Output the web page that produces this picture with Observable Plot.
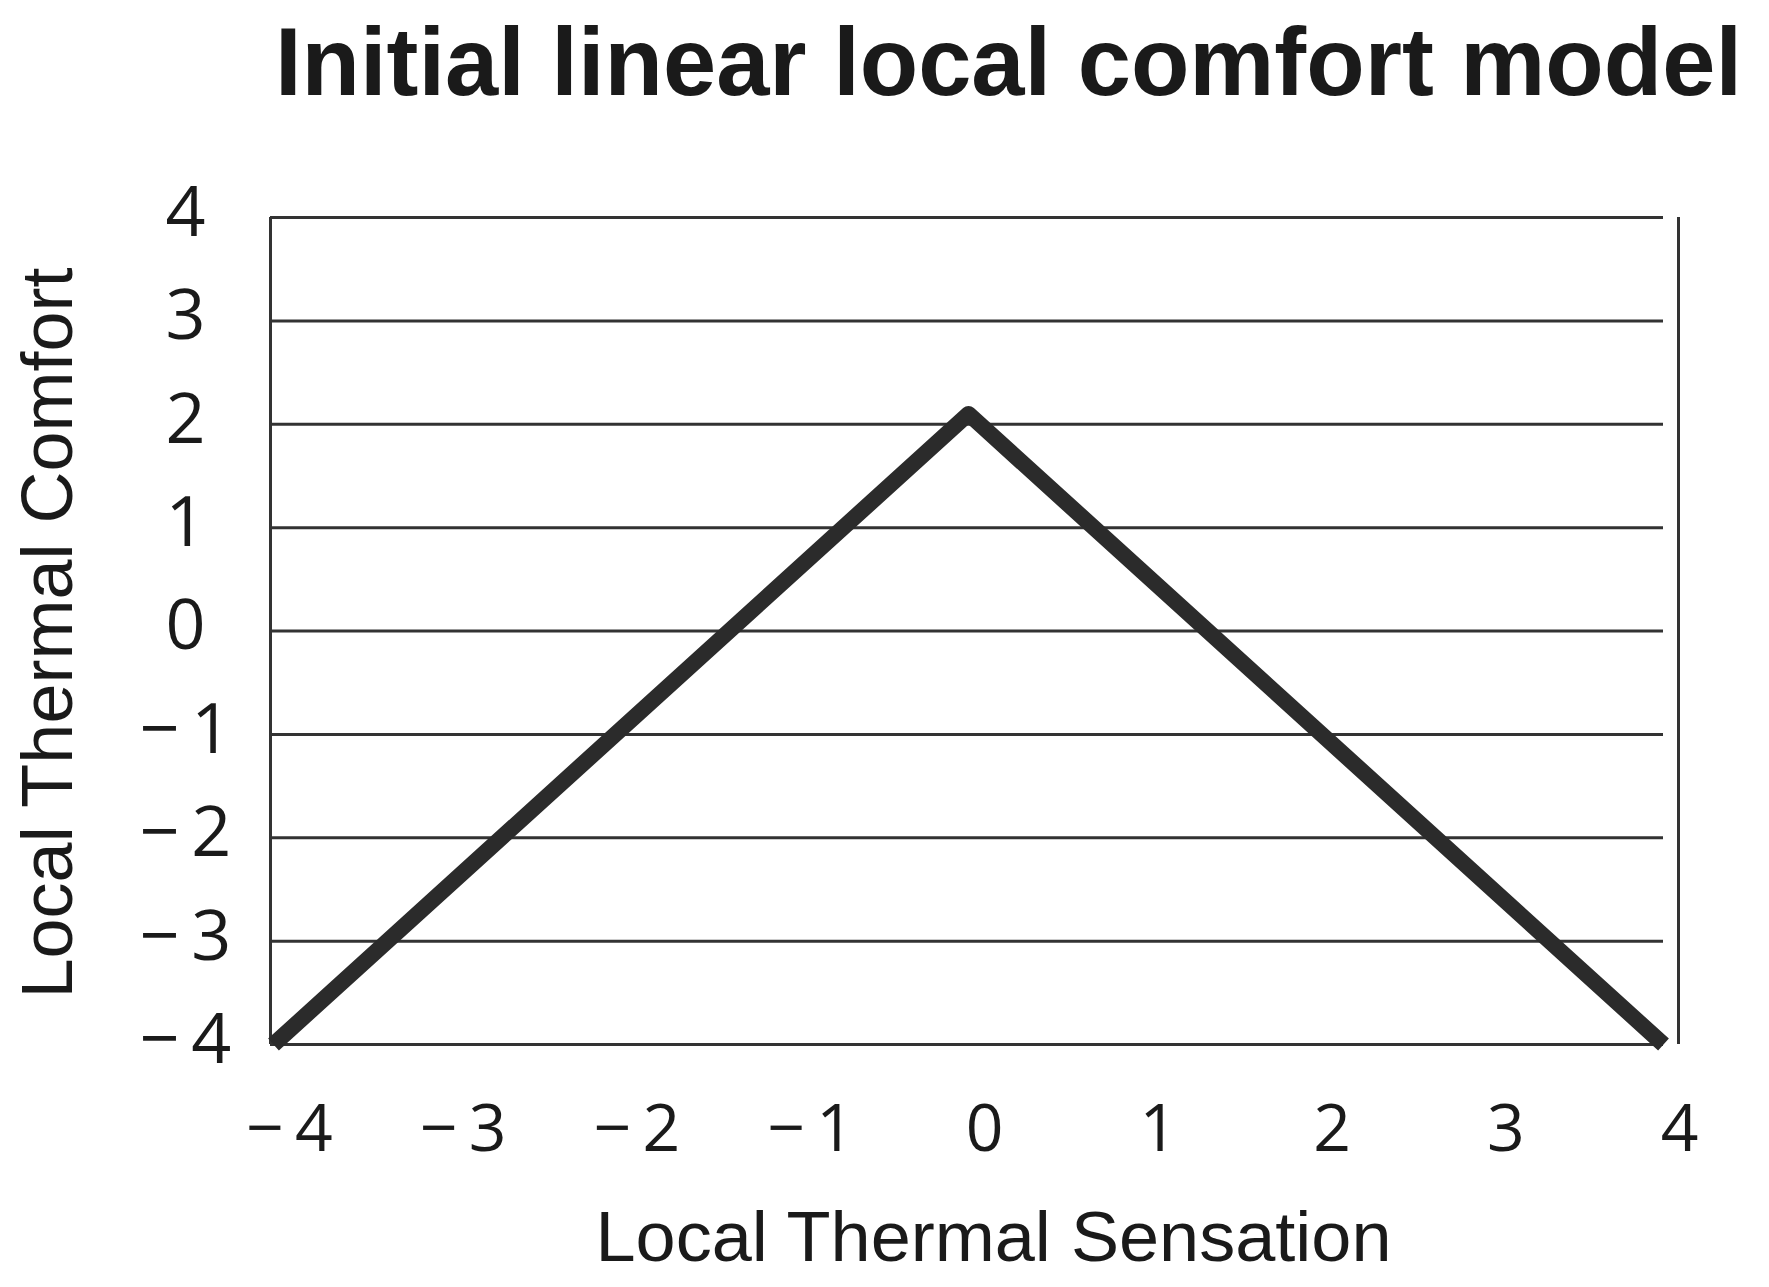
<!DOCTYPE html>
<html>
<head>
<meta charset="utf-8">
<script src="https://cdn.jsdelivr.net/npm/d3@7"></script>
<script src="https://cdn.jsdelivr.net/npm/@observablehq/plot@0.6"></script>
<style>
  html, body { margin: 0; padding: 0; background: #fff; }
  #title { display: block; }
</style>
</head>
<body>
<svg id="title" width="1769" height="130">
  <text x="275" y="95" font-family="'Liberation Sans', Arial, sans-serif" font-weight="bold" font-size="97" fill="#1a1a1a" textLength="1467" lengthAdjust="spacingAndGlyphs">Initial linear local comfort model</text>
</svg>
<div id="chart"></div>
<script>
// ---- data ----
const sensation = [-4, 0, 4];
const comfort = [-4, 2.1, -4];
const xTicks = [-4, -3, -2, -1, 0, 1, 2, 3, 4];
const yTicks = [-4, -3, -2, -1, 0, 1, 2, 3, 4];
const xLabel = "Local Thermal Sensation";
const yLabel = "Local Thermal Comfort";

const data = sensation.map((s, i) => ({s, c: comfort[i]}));
const fmt = d => d < 0 ? "\u2212\u2009" + Math.abs(d) : String(d);
const ink = "#333333";

const chart = Plot.plot({
  width: 1769,
  height: 1157,
  marginTop: 87,
  marginBottom: 243,
  marginLeft: 273,
  marginRight: 106,
  x: {domain: [-4, 4], axis: null},
  y: {domain: [-4, 4], axis: null},
  marks: [
    Plot.ruleY(yTicks, {stroke: ink, strokeWidth: 3, insetLeft: -3}),
    Plot.ruleX([-4], {y1: -4, y2: 4, stroke: ink, strokeWidth: 3, dx: -3}),
    Plot.ruleX([4], {y1: -4, y2: 4, stroke: ink, strokeWidth: 3, dx: 15}),
    Plot.line(data, {x: "s", y: "c", stroke: "#2b2b2b", strokeWidth: 16, strokeLinejoin: "round", strokeLinecap: "butt"}),
    Plot.text(yTicks, {y: d => d, text: fmt, frameAnchor: "left", dx: -88, dy: -4, textAnchor: "middle",
      fontSize: 70, fontFamily: "'Open Sans', sans-serif", fill: "#1a1a1a"}),
    Plot.text(xTicks, {x: d => d, text: fmt, frameAnchor: "bottom", dx: 16, dy: 106, textAnchor: "middle",
      fontSize: 66, fontFamily: "'Open Sans', sans-serif", fill: "#1a1a1a"}),
    Plot.text([xLabel], {text: d => d, frameAnchor: "bottom", dx: 25, dy: 216, textAnchor: "middle",
      fontSize: 71, fontFamily: "'Liberation Sans', Arial, sans-serif", fill: "#1a1a1a"}),
    Plot.text([yLabel], {text: d => d, frameAnchor: "left", rotate: -90, dx: -225, dy: 2, textAnchor: "middle",
      fontSize: 72, fontFamily: "'Liberation Sans', Arial, sans-serif", fill: "#1a1a1a"})
  ]
});
document.getElementById("chart").appendChild(chart);

// fit axis titles to the reference widths
for (const t of chart.querySelectorAll("text")) {
  if (t.textContent === xLabel) { t.setAttribute("textLength", 796); t.setAttribute("lengthAdjust", "spacingAndGlyphs"); }
  if (t.textContent === yLabel) { t.setAttribute("textLength", 731); t.setAttribute("lengthAdjust", "spacingAndGlyphs"); }
}
</script>
</body>
</html>
